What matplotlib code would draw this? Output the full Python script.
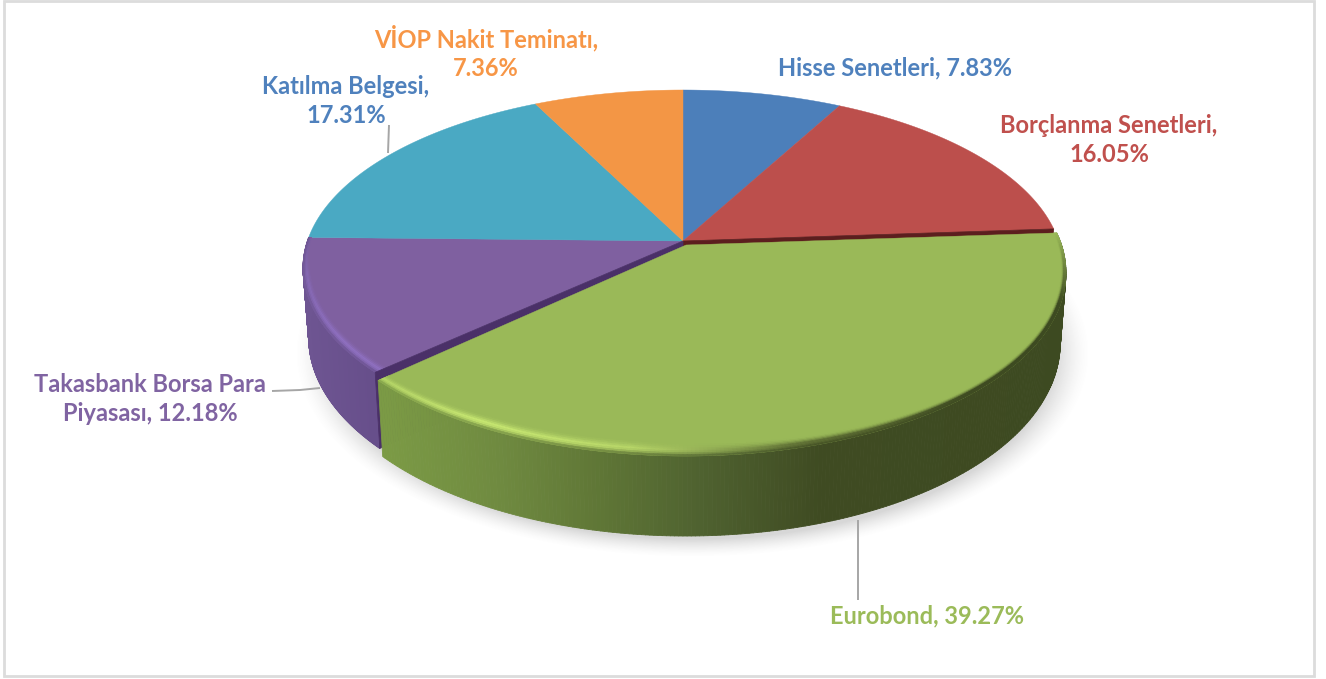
import numpy as np
import matplotlib
matplotlib.use('Agg')
import matplotlib.pyplot as plt
from matplotlib.collections import PolyCollection
from matplotlib.colors import to_rgb
from matplotlib.patches import Polygon, Rectangle

plt.rcParams['font.family'] = ['Lato', 'DejaVu Sans']

# data, clockwise from the top
categories = ['Hisse Senetleri', 'Borçlanma Senetleri', 'Eurobond',
              'Takasbank Borsa Para\nPiyasası', 'Katılma Belgesi', 'VİOP Nakit Teminatı']
values = [7.83, 16.05, 39.27, 12.18, 17.31, 7.36]
separators = [' ', '\n', ' ', ' ', '\n', '\n']
slice_colors = ['#4c7fba', '#bc4f4c', '#9ab958', '#7f60a0', '#4aa9c3', '#f39645']
text_colors = ['#4f81bd', '#c0504d', '#9bbb59', '#8064a2', '#4f81bd', '#f79646']
label_pos = [(895, 68), (1109, 140), (927, 616), (150, 399), (346, 101), (486, 52)]

# perspective of the disc on screen
K, C, A, B, CX = 375.6, 0.1517, -137.35, 241.0, 683.0
NO_SHIFT = (0, 0, 0)
EXPLODE = (3, 4, 6)  # dx, dy, extra dy towards the front
INSET = 0.015
GREEN = 2
PURPLE = 3

fracs = np.cumsum([0] + values) / np.sum(values)


def project(f, shift=NO_SHIFT):
    t = 2 * np.pi * np.asarray(f)
    xx, yy = np.sin(t), np.cos(t)
    d = 1 + C * yy
    return CX + K * xx / d + shift[0], (A * yy + B) / d + shift[1] + shift[2] * np.clip(-yy, 0, 1)


def depth(f):
    return 68 - 12 * np.cos(2 * np.pi * np.asarray(f))


def wedge_points(i, shift=NO_SHIFT):
    f = np.linspace(fracs[i], fracs[i + 1], 150)
    x, y = project(f, shift)
    return np.vstack([[CX + shift[0], B + shift[1]], np.column_stack([x, y])])


def mix(c1, c2, s):
    return np.array(c1) * (1 - s) + np.array(c2) * s


def ramp(x, xs, cols):
    rgb = np.array([to_rgb(c) for c in cols])
    return np.array([np.interp(x, xs, rgb[:, k]) for k in range(3)]).T


green_side = ([385, 500, 600, 700, 820, 1070],
              ['#7b9a45', '#6f8a40', '#5f7636', '#4f6230', '#3f4b22', '#3d4a21'])
purple_side = ([303, 380], ['#6e5592', '#664e8a'])


def side_wall(ax, i, stops, shift, z):
    f = np.linspace(fracs[i], fracs[i + 1], 260)
    x, y = project(f, shift)
    yb = y + depth(f)
    xb = x + (CX - x) * INSET
    quads = [[(x[j], y[j]), (x[j + 1], y[j + 1]), (xb[j + 1], yb[j + 1]), (xb[j], yb[j])]
             for j in range(len(f) - 1)]
    cols = ramp((x[:-1] + x[1:]) / 2, *stops)
    ax.add_collection(PolyCollection(quads, facecolors=cols, edgecolors=cols, linewidths=0.6, zorder=z))


def bevel(ax, i, shift, side_stops, light, strength, widths, fade, z):
    f = np.linspace(fracs[i], fracs[i + 1], 260)
    x, y = project(f, shift)
    ux, uy = CX + shift[0] - x, B + shift[1] - y
    n = np.hypot(ux, uy)
    ux, uy = ux / n, uy / n
    w = np.interp(f, *widths)
    s = np.interp(f, *strength)
    base = to_rgb(slice_colors[i])
    edge = ramp(x, *side_stops)
    keep = np.interp(f, *fade)[:, None]
    edge = edge * (1 - keep) + np.array(base) * keep
    steps = np.linspace(1, 0, 9)
    quads, cols = [], []
    for a, b in zip(steps[:-1], steps[1:]):
        tm = 1 - (a + b) / 2
        for j in range(len(f) - 1):
            p = [(x[j] + ux[j] * w[j] * a, y[j] + uy[j] * w[j] * a),
                 (x[j + 1] + ux[j + 1] * w[j + 1] * a, y[j + 1] + uy[j + 1] * w[j + 1] * a),
                 (x[j + 1] + ux[j + 1] * w[j + 1] * b, y[j + 1] + uy[j + 1] * w[j + 1] * b),
                 (x[j] + ux[j] * w[j] * b, y[j] + uy[j] * w[j] * b)]
            target = mix(edge[j], to_rgb(light), s[j])
            if tm < 0.55:
                c = mix(base, target, (tm / 0.55) ** 2)
            else:
                c = mix(target, edge[j], ((tm - 0.55) / 0.45) ** 2)
            quads.append(p)
            cols.append(c)
    ax.add_collection(PolyCollection(quads, facecolors=cols, edgecolors=cols, linewidths=0.4, zorder=z))


fig = plt.figure(figsize=(13.26, 6.79), dpi=100)
ax = fig.add_axes([0, 0, 1, 1])
ax.axis('off')

# soft shadow under the disc
gx, gy = np.meshgrid(np.arange(260, 1120), np.arange(150, 600))
d = np.hypot((gx - 692) / 398, (gy - 353) / 204)
shadow = np.zeros(gx.shape + (4,))
shadow[..., :3] = 0.45
shadow[..., 3] = np.clip((1 - d) / 0.09, 0, 1) ** 1.5 * 0.28
ax.imshow(shadow, extent=(260, 1120, 600, 150), aspect='auto', zorder=1, interpolation='bilinear')

side_wall(ax, PURPLE, purple_side, NO_SHIFT, 2)

# dark cut faces next to the pulled out slice
for f_cut, col in [(fracs[GREEN], '#5c1e1e'), (fracs[GREEN + 1], '#4a3068')]:
    x0, y0 = project(f_cut)
    dp = depth(f_cut)
    ax.add_patch(Polygon([(CX, B), (x0, y0), (x0 + (CX - x0) * INSET, y0 + dp), (CX, B + dp)], closed=True,
                         fc=col, ec=col, lw=0.5, zorder=3))

side_wall(ax, GREEN, green_side, EXPLODE, 4)

for i, col in enumerate(slice_colors):
    if i == GREEN:
        continue
    ax.add_patch(Polygon(wedge_points(i), closed=True, fc=col, ec=col, lw=0.3, zorder=2.5))
ax.add_patch(Polygon(wedge_points(GREEN, EXPLODE), closed=True, fc=slice_colors[GREEN],
                     ec=slice_colors[GREEN], lw=0.3, zorder=5))

f_g = [fracs[GREEN], 0.30, 0.38, 0.46, 0.52, 0.58, fracs[GREEN + 1]]
bevel(ax, GREEN, EXPLODE, green_side, '#c8e872',
      (f_g, [0.0, 0.0, 0.0, 0.25, 0.85, 1.0, 0.75]),
      (f_g, [3, 6, 8, 11, 15, 16, 12]),
      (f_g, [1.0, 0.0, 0.0, 0.0, 0.0, 0.0, 0.0]), 6)
f_p = [fracs[PURPLE], 0.66, 0.72, fracs[PURPLE + 1]]
bevel(ax, PURPLE, NO_SHIFT, purple_side, '#8f70c0',
      (f_p, [1.0, 1.0, 0.7, 0.3]),
      (f_p, [14, 13, 9, 3]),
      (f_p, [0.0, 0.0, 0.0, 0.0]), 2.6)

# leader lines
leaders = [((389, 125), (388, 153)), ((272, 391), (300, 390), (320, 388)), ((858, 520), (858, 600))]
for pts in leaders:
    xs, ys = zip(*pts)
    ax.plot(xs, ys, color='#a6a6a6', lw=1.4, zorder=1.5, solid_capstyle='butt')

# labels
for cat, val, sep, col, pos in zip(categories, values, separators, text_colors, label_pos):
    ax.text(pos[0], pos[1], f'{cat},{sep}{val:.2f}%', color=col, ha='center', va='center',
            fontsize=17, fontweight='bold', linespacing=1.3, zorder=8)

# chart frame
ax.add_patch(Rectangle((3.5, 0.5), 1310, 675, fc='none', ec='#dcdcdc', lw=2, zorder=9))

ax.set_xlim(0, 1326)
ax.set_ylim(679, 0)
fig.savefig('out.png', dpi=100, facecolor='white')
